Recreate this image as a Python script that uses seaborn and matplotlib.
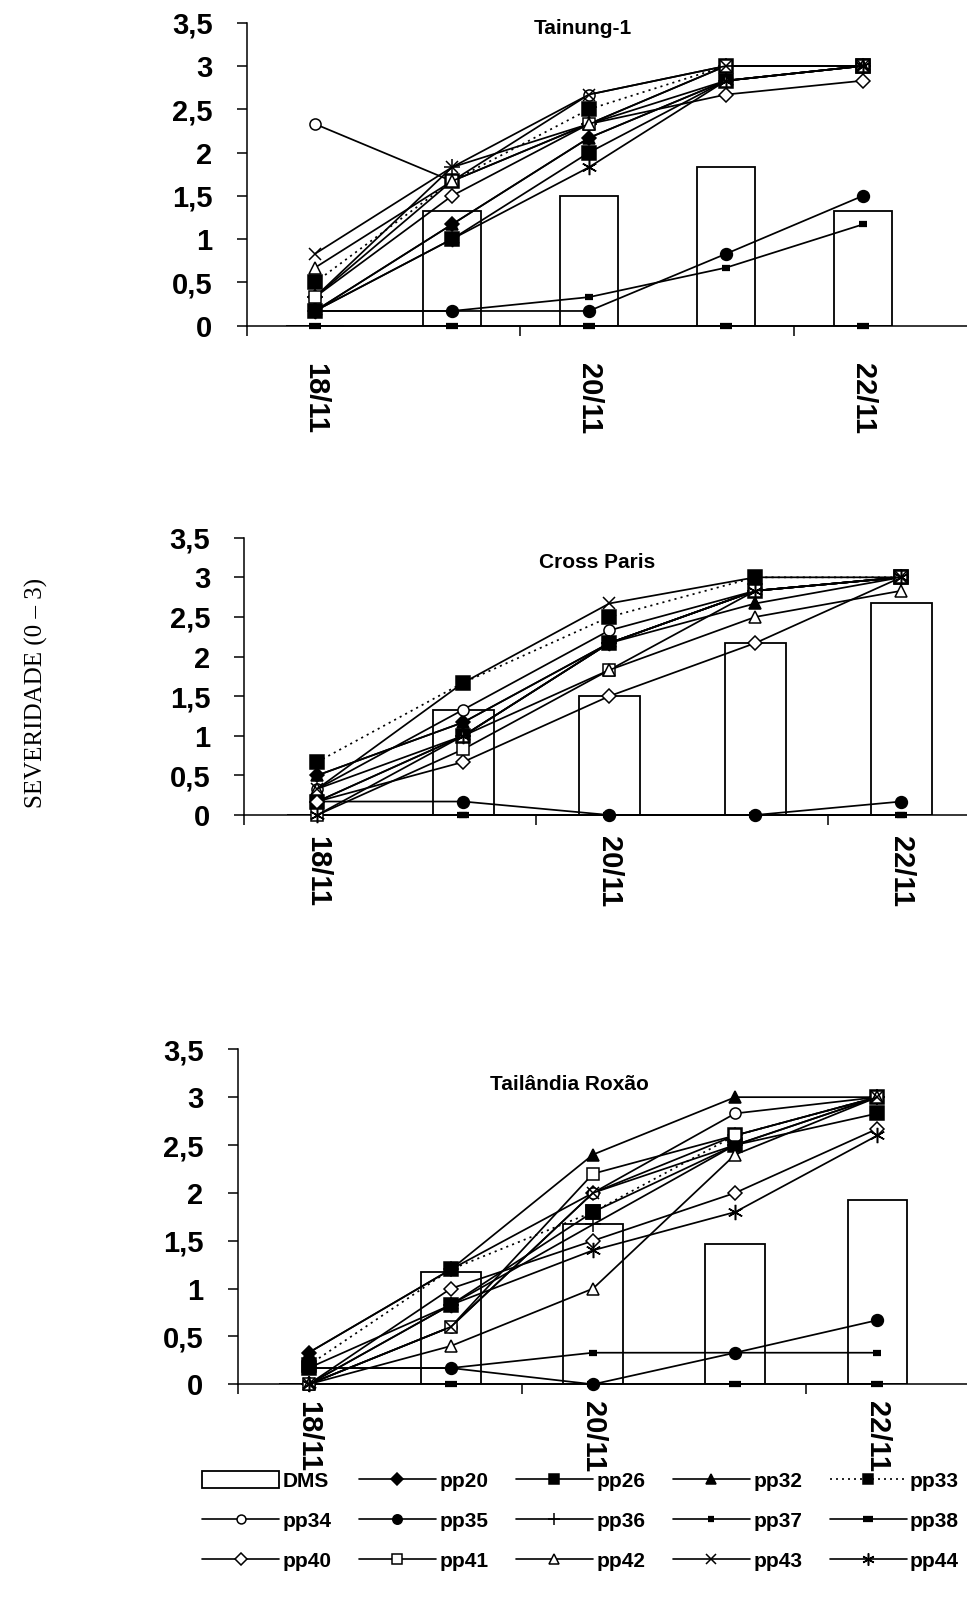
import matplotlib
matplotlib.use("Agg")
import matplotlib.pyplot as plt
import seaborn as sns
from matplotlib.patches import Patch
from matplotlib.lines import Line2D

sns.set_theme(style="ticks")
plt.rcParams['font.family'] = ['Liberation Sans', 'DejaVu Sans']
plt.rcParams.update({
    'axes.edgecolor': 'black', 'xtick.color': 'black', 'ytick.color': 'black',
    'text.color': 'black', 'axes.labelcolor': 'black',
})

# ---------------- data ----------------
dates = ["18/11", "19/11", "20/11", "21/11", "22/11"]
shown_dates = ["18/11", "20/11", "22/11"]
y_ticks = [0, 0.5, 1, 1.5, 2, 2.5, 3, 3.5]
y_tick_labels = ["0", "0,5", "1", "1,5", "2", "2,5", "3", "3,5"]
series_names = ["pp20", "pp26", "pp32", "pp33", "pp34", "pp35", "pp36",
                "pp37", "pp38", "pp40", "pp41", "pp42", "pp43", "pp44"]
panel_titles = ["Tainung-1", "Cross Paris", "Tailândia Roxão"]

# Tainung-1
t1_dms = [0, 1.33, 1.5, 1.83, 1.33]
t1_pp20 = [0.17, 1.17, 2.17, 2.83, 3.0]
t1_pp26 = [0.17, 1.0, 2.0, 2.83, 3.0]
t1_pp32 = [0.17, 1.17, 2.17, 2.83, 3.0]
t1_pp33 = [0.5, 1.67, 2.5, 3.0, 3.0]
t1_pp34 = [2.33, 1.67, 2.67, 3.0, 3.0]
t1_pp35 = [0.17, 0.17, 0.17, 0.83, 1.5]
t1_pp36 = [0.33, 1.83, 2.33, 3.0, 3.0]
t1_pp37 = [0.17, 0.17, 0.33, 0.67, 1.17]
t1_pp38 = [0, 0, 0, 0, 0]
t1_pp40 = [0.33, 1.5, 2.33, 2.67, 2.83]
t1_pp41 = [0.33, 1.67, 2.33, 3.0, 3.0]
t1_pp42 = [0.67, 1.67, 2.33, 2.83, 3.0]
t1_pp43 = [0.83, 1.83, 2.67, 3.0, 3.0]
t1_pp44 = [0.17, 1.0, 1.83, 2.83, 3.0]

# Cross Paris
cp_dms = [0, 1.33, 1.5, 2.17, 2.67]
cp_pp20 = [0.5, 1.17, 2.17, 2.83, 3.0]
cp_pp26 = [0.17, 1.0, 2.17, 2.83, 3.0]
cp_pp32 = [0.5, 1.17, 2.17, 2.67, 3.0]
cp_pp33 = [0.67, 1.67, 2.5, 3.0, 3.0]
cp_pp34 = [0.33, 1.33, 2.33, 2.83, 3.0]
cp_pp35 = [0.17, 0.17, 0, 0, 0.17]
cp_pp36 = [0.17, 1.0, 2.17, 2.83, 3.0]
cp_pp37 = [0, 0, 0, 0, 0]
cp_pp38 = [0, 0, 0, 0, 0]
cp_pp40 = [0.17, 0.67, 1.5, 2.17, 3.0]
cp_pp41 = [0, 0.83, 1.83, 2.83, 3.0]
cp_pp42 = [0.33, 1.0, 1.83, 2.5, 2.83]
cp_pp43 = [0.33, 1.67, 2.67, 3.0, 3.0]
cp_pp44 = [0, 1.0, 2.17, 2.83, 3.0]

# Tailândia Roxão
tr_dms = [0, 1.17, 1.67, 1.47, 1.93]
tr_pp20 = [0.33, 1.2, 2.0, 2.6, 3.0]
tr_pp26 = [0.17, 0.83, 1.8, 2.5, 2.83]
tr_pp32 = [0.33, 1.2, 2.4, 3.0, 3.0]
tr_pp33 = [0.2, 1.2, 1.8, 2.6, 3.0]
tr_pp34 = [0, 0.6, 2.0, 2.83, 3.0]
tr_pp35 = [0.17, 0.17, 0, 0.33, 0.67]
tr_pp36 = [0, 0.83, 1.67, 2.5, 3.0]
tr_pp37 = [0.17, 0.17, 0.33, 0.33, 0.33]
tr_pp38 = [0, 0, 0, 0, 0]
tr_pp40 = [0, 1.0, 1.5, 2.0, 2.67]
tr_pp41 = [0, 0.6, 2.2, 2.6, 3.0]
tr_pp42 = [0, 0.4, 1.0, 2.4, 3.0]
tr_pp43 = [0, 0.6, 2.0, 2.5, 3.0]
tr_pp44 = [0, 0.83, 1.4, 1.8, 2.6]

panels = [
    (t1_dms, [t1_pp20, t1_pp26, t1_pp32, t1_pp33, t1_pp34, t1_pp35, t1_pp36,
              t1_pp37, t1_pp38, t1_pp40, t1_pp41, t1_pp42, t1_pp43, t1_pp44]),
    (cp_dms, [cp_pp20, cp_pp26, cp_pp32, cp_pp33, cp_pp34, cp_pp35, cp_pp36,
              cp_pp37, cp_pp38, cp_pp40, cp_pp41, cp_pp42, cp_pp43, cp_pp44]),
    (tr_dms, [tr_pp20, tr_pp26, tr_pp32, tr_pp33, tr_pp34, tr_pp35, tr_pp36,
              tr_pp37, tr_pp38, tr_pp40, tr_pp41, tr_pp42, tr_pp43, tr_pp44]),
]

# ---------------- styles ----------------
SOLID = '-'
DOT = (0, (1.2, 2.4))
styles = {
    'pp20': dict(marker='D', markersize=7.5, markerfacecolor='black', linestyle=SOLID),
    'pp26': dict(marker='s', markersize=9.5, markerfacecolor='black', linestyle=SOLID),
    'pp32': dict(marker='^', markersize=8.5, markerfacecolor='black', linestyle=SOLID),
    'pp33': dict(marker='s', markersize=9.5, markerfacecolor='black', linestyle=DOT),
    'pp34': dict(marker='o', markersize=8, markerfacecolor='white', linestyle=SOLID),
    'pp35': dict(marker='o', markersize=8.5, markerfacecolor='black', linestyle=SOLID),
    'pp36': dict(marker='+', markersize=11, markerfacecolor='black', linestyle=SOLID),
    'pp37': dict(marker='_', markersize=6, markerfacecolor='black', linestyle=SOLID),
    'pp38': dict(marker='_', markersize=9, markerfacecolor='black', linestyle=SOLID),
    'pp40': dict(marker='D', markersize=7.5, markerfacecolor='white', linestyle=SOLID),
    'pp41': dict(marker='s', markersize=8.5, markerfacecolor='white', linestyle=SOLID),
    'pp42': dict(marker='^', markersize=8.5, markerfacecolor='white', linestyle=SOLID),
    'pp43': dict(marker='x', markersize=9, markerfacecolor='black', linestyle=SOLID),
    'pp44': dict(marker=(6, 2, 0), markersize=11, markerfacecolor='black', linestyle=SOLID),
}
mew = {'pp37': 4.5, 'pp38': 4.5}

W, H = 967, 1604
fig = plt.figure(figsize=(W / 100, H / 100), dpi=100)

# axes geometry in pixels: left, top(3.5), bottom(0), xmax, title x, title y, label pad
geo = [
    (246.5, 22.7, 325.7, 4.76, 583, 28, 27),
    (244.3, 537.7, 815.0, 4.45, 597, 562, 15),
    (237.5, 1049.3, 1384.3, 4.63, 569, 1085, 12),
]

xpos = list(range(len(dates)))
for (dms, vals), (lpx, tpx, bpx, xmax, tx, ty, pad), title in zip(panels, geo, panel_titles):
    ax = fig.add_axes([lpx / W, 1 - bpx / H, 1 - lpx / W, (bpx - tpx) / H])
    sns.barplot(x=dates, y=dms, ax=ax, color='white', edgecolor='black',
                linewidth=1.3, width=0.42, saturation=1, errorbar=None, zorder=1)
    for name, v in zip(series_names, vals):
        st = styles[name]
        sns.lineplot(x=xpos, y=v, ax=ax, color='black', linewidth=1.25,
                     markeredgecolor='black', markeredgewidth=mew.get(name, 1.1),
                     legend=False, zorder=3, clip_on=False, **st)
    ax.set_xlim(-0.5, xmax)
    ax.set_ylim(0, 3.5)
    ax.set_xlabel('')
    ax.set_ylabel('')
    sns.despine(ax=ax)
    for s in ['left', 'bottom']:
        ax.spines[s].set_linewidth(1.1)
    ax.set_yticks(y_ticks)
    ax.set_yticklabels(y_tick_labels, fontsize=21, fontweight='bold')
    ax.tick_params(axis='y', direction='out', length=7.5, width=1.1, pad=17)
    ax.set_xticks([-0.5, 1.5, 3.5])
    ax.set_xticklabels([])
    ax.tick_params(axis='x', which='major', direction='out', length=7.5, width=1.1)
    ax.set_xticks([0, 2, 4], minor=True)
    ax.set_xticklabels(shown_dates, minor=True, rotation=-90, fontsize=21,
                       fontweight='bold', va='top', ha='center')
    ax.tick_params(axis='x', which='minor', length=0, pad=pad)
    fig.text(tx / W, 1 - ty / H, title, ha='center', va='center',
             fontsize=15, fontweight='bold')

fig.text(36 / W, 1 - 693 / H, "SEVERIDADE (0 \u2013 3)", rotation=90, ha='center',
         va='center', fontsize=18, family=['Liberation Serif', 'DejaVu Serif'])

# legend
entries = [Patch(facecolor='white', edgecolor='black', linewidth=1.3, label='DMS')]
for name in series_names:
    st = dict(styles[name])
    st['markersize'] = st['markersize'] * 0.8
    entries.append(Line2D([0], [0], color='black', linewidth=1.2,
                          markeredgecolor='black', markeredgewidth=mew.get(name, 1.1),
                          label=name, **st))
order = [entries[r * 5 + c] for c in range(5) for r in range(3)]
fig.legend(handles=order, labels=[h.get_label() for h in order], ncol=5,
           loc='upper left', bbox_to_anchor=(202 / W, 1 - 1471 / H),
           frameon=False, borderpad=0, borderaxespad=0, handlelength=3.7,
           handletextpad=0.15, columnspacing=1.33, labelspacing=0.97,
           handleheight=0.9, numpoints=1,
           prop={'size': 15, 'weight': 'bold'})

fig.savefig('out.png', dpi=100)
